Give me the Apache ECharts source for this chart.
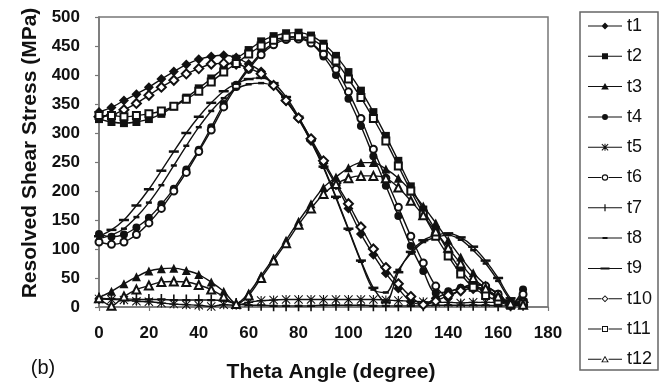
<!DOCTYPE html>
<html>
<head>
<meta charset="utf-8">
<script src="https://cdn.jsdelivr.net/npm/echarts@6/dist/echarts.min.js"></script>
<style>html,body{margin:0;padding:0;background:#fff;}#c{width:660px;height:382px;}</style>
</head>
<body>
<div id="c"></div>
<script>
// Theta angles (degree)
const theta = [0,5,10,15,20,25,30,35,40,45,50,55,60,65,70,75,80,85,90,95,100,105,110,115,120,125,130,135,140,145,150,155,160,165,170];
const xTicks = [0,20,40,60,80,100,120,140,160,180];
const yTicks = [0,50,100,150,200,250,300,350,400,450,500];

const t1 = [336,344,356,367,379, 393,406,418,427,432, 434,430,419,406,382, 355,325,286,248,210, 170,126,90,58,32, 9,5,15,25,32, 35,30,18,4,12];
const t2 = [324,319,317,319,324, 333,346,361,377,394, 412,428,443,458,467, 472,473,468,454,433, 405,373,336,295,252, 208,168,132,96,64, 40,28,16,5,8];
const t3 = [16,27,40,52,62, 66,67,63,56,43, 27,6,24,54,84, 115,148,178,206,224, 240,249,249,238,222, 200,174,145,115,86, 59,38,22,8,10];
const t4 = [126,121,125,137,154, 177,204,237,271,310, 350,383,413,438,455, 464,466,455,432,400, 359,312,260,209,157, 105,62,24,27,33, 38,36,23,4,30];
const t5 = [14,13,12,10,9, 7,5,4,3,1, 4,3,8,11,12, 13,13,13,13,13, 13,13,13,12,11, 10,9,8,8,7, 8,8,8,7,8];
const t6 = [112,108,112,125,145, 170,200,232,268,305, 345,380,410,435,452, 461,462,455,436,410, 371,325,272,222,172, 122,76,36,18,30, 40,36,22,5,22];
const t7 = [15,14,14,13,13, 13,12,12,12,12, 11,6,3,3,2, 2,2,2,3,3, 3,3,2,2,2, 2,2,3,3,3, 3,3,2,2,3];
const t8 = [118,124,135,155,180, 210,244,278,310,338, 360,376,384,386,380, 358,324,285,240,188, 133,78,30,25,64, 92,112,120,124,116, 98,75,45,12,2];
const t9 = [122,133,150,175,203, 235,268,300,328,352, 372,385,393,395,386, 362,328,288,242,190, 135,80,33,8,60, 95,115,124,127,120, 104,80,50,15,3];
const t10 = [328,331,340,351,365, 379,391,402,411,419, 420,419,412,402,382, 356,326,290,252,214, 178,138,100,68,40, 18,4,10,20,28, 32,28,16,3,8];
const t11 = [330,330,328,330,333, 338,346,358,372,388, 405,420,436,450,460, 465,466,462,448,424, 393,361,325,286,243, 200,160,122,88,57, 34,20,10,3,5];
const t12 = [15,2,18,30,37, 43,44,43,38,30, 18,5,20,50,80, 110,142,170,195,212, 222,226,226,222,206, 183,158,130,102,75, 50,32,18,6,4];

const seriesNames = ['t1','t2','t3','t4','t5','t6','t7','t8','t9','t10','t11','t12'];
const seriesValues = [t1,t2,t3,t4,t5,t6,t7,t8,t9,t10,t11,t12];

// plot marker shapes
const DASH = 'path://M0,0h10v2h-10z';
const PLUS = 'path://M4,0h2v10h-2z M0,4h10v2h-10z';
const STAR = 'path://M4.4,0h1.2v10h-1.2z M0,4.4h10v1.2h-10z M0.8,0L10,9.2L9.2,10L0,0.8z M9.2,0L10,0.8L0.8,10L0,9.2z';

const symbols = [
  {s:'diamond', z:10},
  {s:'rect', z:8},
  {s:'triangle', z:9},
  {s:'circle', z:8},
  {s:STAR, z:9},
  {s:'emptyCircle', z:7},
  {s:PLUS, z:[8,11]},
  {s:DASH, z:[6,2.5]},
  {s:DASH, z:[10,2.5]},
  {s:'emptyDiamond', z:9},
  {s:'emptyRect', z:7},
  {s:'emptyTriangle', z:8}
];

// legend icons: line + marker in a 34x10 box
const BOX = 'M17,0L17,0M17,10L17,10';
const LINE = 'M0,4.5h34v1h-34z';
const LINE_BROKEN = 'M0,4.5h13.4v1h-13.4z M20.6,4.5h13.4v1h-13.4z';
const legendIcons = [
  LINE + ' M17,1.5L20.5,5L17,8.5L13.5,5z',
  LINE + ' M14,2h6v6h-6z',
  LINE + ' M17,1.5L20.8,8L13.2,8z',
  LINE + ' M20,5A3,3 0 1,1 14,5A3,3 0 1,1 20,5z',
  LINE + ' M16.5,1.5h1v7h-1z M13.5,4.5h7v1h-7z M14.2,1.5L20.5,7.8L19.8,8.5L13.5,2.2z M19.8,1.5L20.5,2.2L14.2,8.5L13.5,7.8z',
  LINE_BROKEN + ' M20.2,5A3.2,3.2 0 1,1 13.8,5A3.2,3.2 0 1,1 20.2,5z M19.1,5A2.1,2.1 0 1,0 14.9,5A2.1,2.1 0 1,0 19.1,5z',
  LINE + ' M16.4,1.5h1.2v7h-1.2z',
  LINE + ' M14.5,4h5v2h-5z',
  LINE + ' M12.5,4h9v2h-9z',
  LINE_BROKEN + ' M17,1.5L20.5,5L17,8.5L13.5,5z M17,2.8L14.8,5L17,7.2L19.2,5z',
  LINE_BROKEN + ' M14,2h6v6h-6z M15,3v4h4v-4z',
  LINE_BROKEN + ' M17,1.5L20.8,8L13.2,8z M17,3.3L14.8,7.1L19.2,7.1z'
].map(p => 'path://' + BOX + ' ' + p);

const FONT = '"Liberation Sans", Arial, sans-serif';
const chart = echarts.init(document.getElementById('c'), null, {renderer:'canvas'});

const series = seriesNames.map((name, i) => {
  const sym = symbols[i];
  const empty = typeof sym.s === 'string' && sym.s.indexOf('empty') === 0;
  return {
    name: name,
    type: 'line',
    smooth: 0.3,
    symbol: sym.s,
    symbolSize: sym.z,
    showAllSymbol: true,
    data: theta.map((x, k) => [x, seriesValues[i][k]]),
    lineStyle: {color:'#111', width:1.4},
    itemStyle: empty ? {color:'#111', borderColor:'#111', borderWidth:1.3} : {color:'#111', borderWidth:0},
    emphasis: {disabled:true},
    animation: false
  };
});

chart.setOption({
  animation: false,
  backgroundColor: '#fff',
  grid: {show:true, left:99, top:17, width:449, height:290, borderColor:'#777', borderWidth:1.5, backgroundColor:'transparent'},
  xAxis: {
    type:'value', min:xTicks[0], max:xTicks[xTicks.length-1], interval:20,
    axisLine:{show:true, lineStyle:{color:'#777', width:1.5}},
    axisTick:{show:true, inside:false, length:4, lineStyle:{color:'#777', width:1.2}},
    axisLabel:{color:'#111', fontFamily:FONT, fontWeight:'bold', fontSize:17, margin:18},
    splitLine:{show:false}
  },
  yAxis: {
    type:'value', min:yTicks[0], max:yTicks[yTicks.length-1], interval:50,
    axisLine:{show:true, lineStyle:{color:'#777', width:1.5}},
    axisTick:{show:true, inside:false, length:4, lineStyle:{color:'#777', width:1.2}},
    axisLabel:{color:'#111', fontFamily:FONT, fontWeight:'bold', fontSize:17, margin:19},
    splitLine:{show:false}
  },
  legend: {
    orient:'vertical', left:588, top:17, padding:0,
    itemWidth:34, itemHeight:10, itemGap:12.3,
    symbolKeepAspect:true,
    itemStyle:{color:'#111', borderWidth:0},
    textStyle:{color:'#111', fontFamily:FONT, fontSize:18, lineHeight:18, padding:[0,0,0,0]},
    data: seriesNames.map((n, i) => ({name:n, icon:legendIcons[i]})),
    selectedMode:false
  },
  graphic: [
    {type:'rect', shape:{x:580, y:12, width:78, height:358}, style:{fill:'none', stroke:'#666', lineWidth:1.5}, silent:true},
    {type:'text', x:331, y:372, style:{text:'Theta Angle (degree)', font:'bold 21px ' + FONT, fill:'#111', align:'center', verticalAlign:'middle', textAlign:'center', textVerticalAlign:'middle'}},
    {type:'text', x:30, y:153, rotation:Math.PI/2, style:{text:'Resolved Shear Stress (MPa)', font:'bold 21px ' + FONT, fill:'#111', align:'center', verticalAlign:'middle', textAlign:'center', textVerticalAlign:'middle'}},
    {type:'text', x:43, y:368, style:{text:'(b)', font:'20px ' + FONT, fill:'#111', align:'center', verticalAlign:'middle', textAlign:'center', textVerticalAlign:'middle'}}
  ],
  series: series
});
</script>
</body>
</html>
